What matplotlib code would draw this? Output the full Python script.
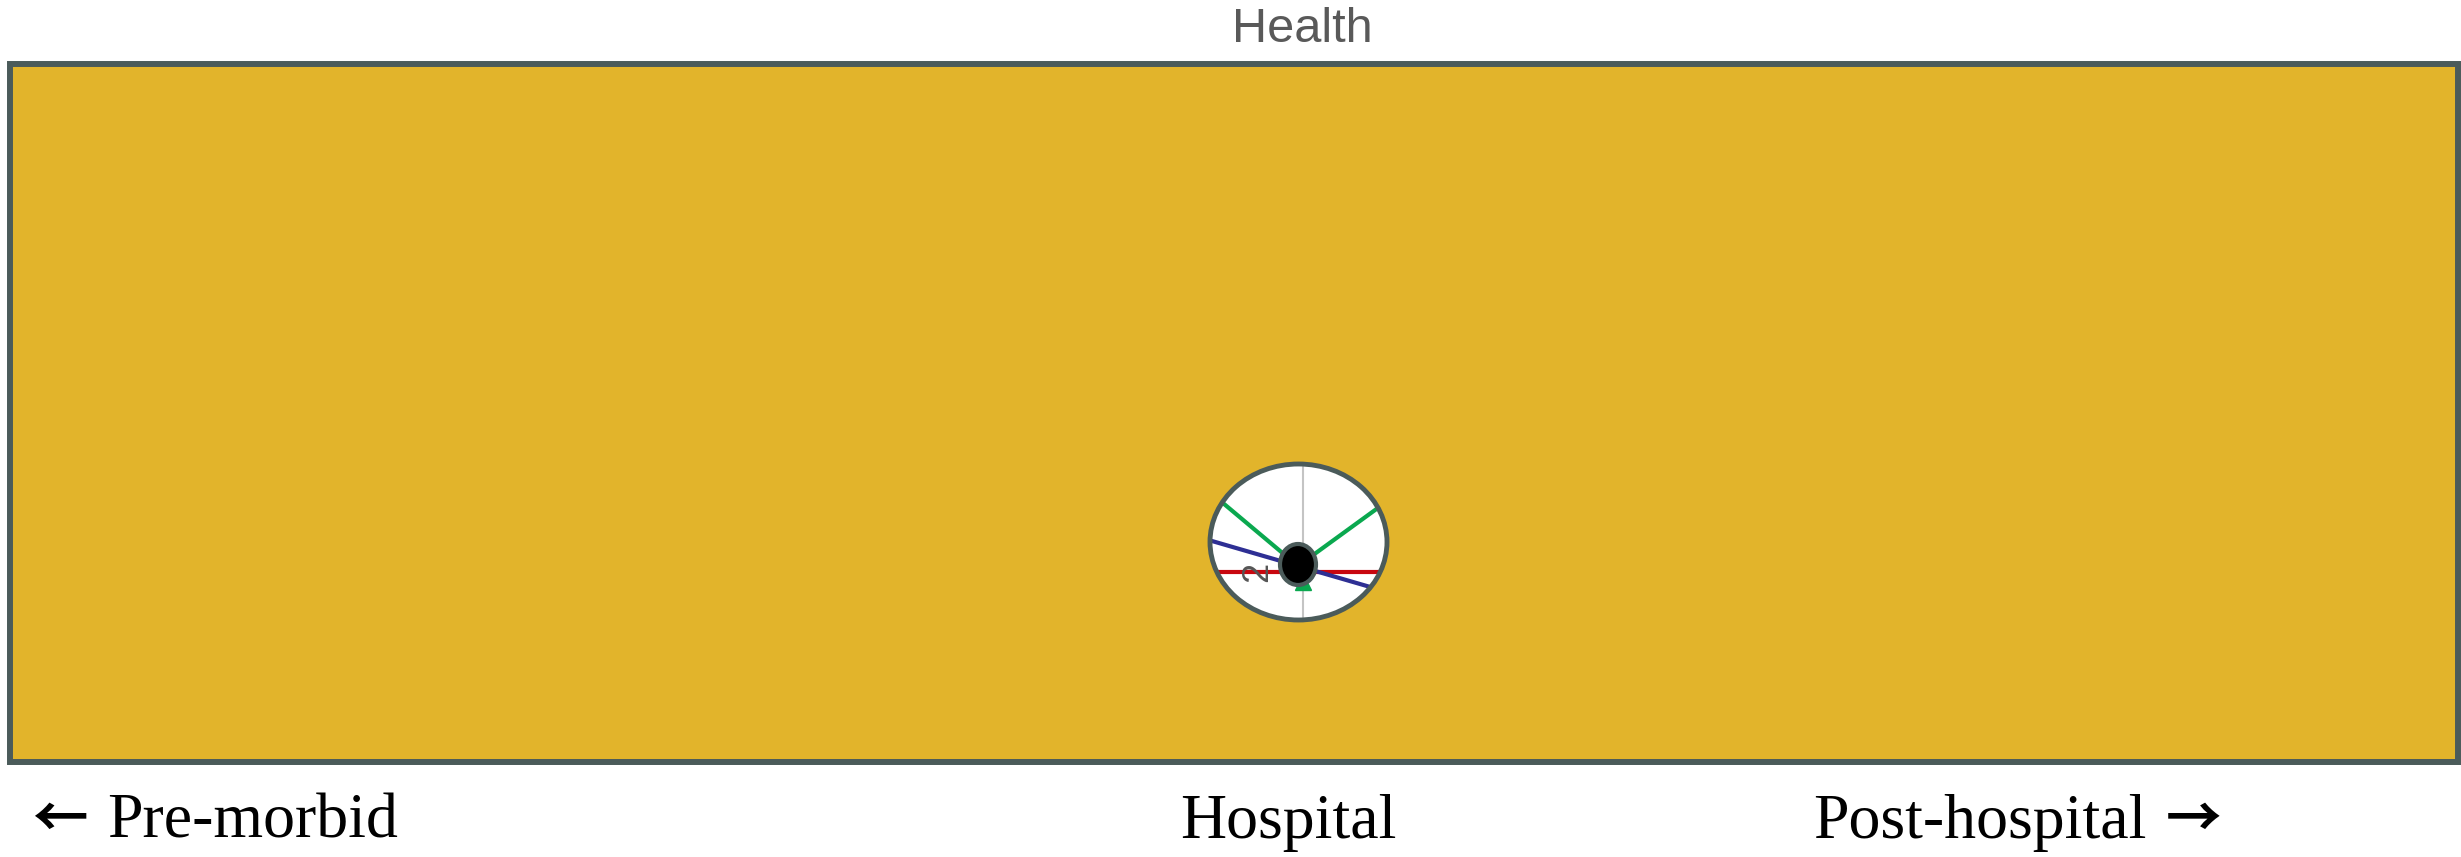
import numpy as np
import matplotlib
matplotlib.use("Agg")
import matplotlib.pyplot as plt
from matplotlib.patches import Rectangle, Ellipse

# ---- data ----
title = "Health"
phase_labels = ["Pre-morbid", "Hospital", "Post-hospital"]
phase_arrows = ["\u2190", "", "\u2192"]
spoke_series = ["green", "blue", "red"]
spoke_angles = {"green": [140, 36], "blue": [163.8, -16.2], "red": [180, 0]}
spoke_colors = {"green": "#0aa84f", "blue": "#2e2f94", "red": "#c8070f"}
ring_label = "2"

W, H = 2461, 857
BORDER = "#4b5b5a"
FILL = "#e2b42b"

fig = plt.figure(figsize=(W / 100, H / 100), dpi=100)
ax = fig.add_axes([0, 0, 1, 1])
ax.set_xlim(0, W)
ax.set_ylim(H, 0)
ax.axis("off")

# main panel
ax.add_patch(Rectangle((10, 64), 2448, 698, facecolor=FILL, edgecolor=BORDER,
                       linewidth=4.3, zorder=1))
ax.text(1302, 29, title, ha="center", va="center", fontsize=35,
        color="#595959", family=["Liberation Sans", "DejaVu Sans"])

# dial
cx, cy, ew, eh = 1298.5, 542, 177, 156
dial = Ellipse((cx, cy), ew, eh, facecolor="white", edgecolor="none", zorder=2)
ax.add_patch(dial)
ax.plot([1303, 1303], [cy - eh / 2, cy + eh / 2], color="#c4c4c4", lw=1.5,
        zorder=3)

ox, oy = 1298, 566
for s in spoke_series:
    angs = np.radians(spoke_angles[s])
    oy_s = 572 if s == "red" else oy
    for a in angs:
        L = 200
        ln, = ax.plot([ox, ox + L * np.cos(a)], [oy_s, oy_s - L * np.sin(a)],
                      color=spoke_colors[s], lw=3, solid_capstyle="butt",
                      zorder=4 if s != "red" else 3.5)
        ln.set_clip_path(dial)

ax.plot([1303], [582], marker="^", markersize=11, color=spoke_colors["green"],
        zorder=4.2)
ax.text(1258, 572, ring_label, rotation=90, ha="center", va="center",
        fontsize=26, color="#555555", family=["Liberation Sans", "DejaVu Sans"],
        zorder=4.5)

ax.add_patch(Ellipse((1298, 564.5), 36, 41, facecolor="black",
                     edgecolor=BORDER, linewidth=3, zorder=5))
ax.add_patch(Ellipse((cx, cy), ew, eh, facecolor="none", edgecolor=BORDER,
                     linewidth=3.5, zorder=6))

# bottom phase labels
serif = ["Liberation Serif", "DejaVu Serif"]
label_x = [107, 1180, 1813]
for lbl, x in zip(phase_labels, label_x):
    ax.text(x, 838, lbl, ha="left", va="baseline", fontsize=46,
            color="black", family=serif)
arrow_x = [59.5, None, 2193.5]
for arr, x in zip(phase_arrows, arrow_x):
    if arr:
        ax.text(x, 821, arr, ha="center", va="center", fontsize=40,
                color="black", family=["Noto Sans CJK JP", "DejaVu Sans"],
                fontweight="bold")

fig.savefig("out.png", dpi=100)
